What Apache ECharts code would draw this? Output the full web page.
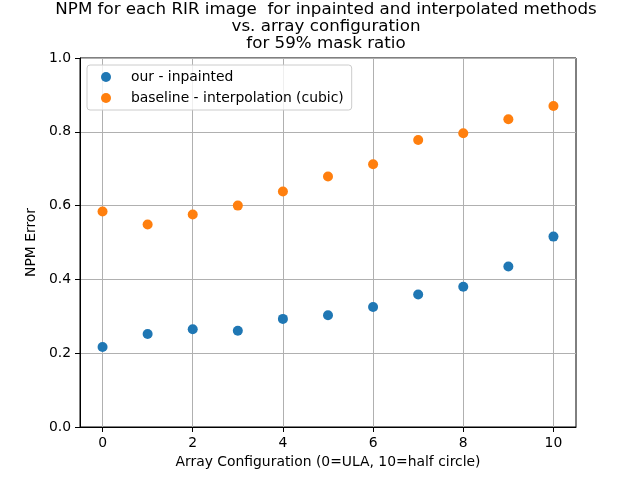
<!DOCTYPE html>
<html>
<head>
<meta charset="utf-8">
<script src="https://cdn.jsdelivr.net/npm/echarts@6/dist/echarts.min.js"></script>
<style>html,body{margin:0;padding:0;background:#fff}#c{width:640px;height:480px}</style>
</head>
<body>
<div id="c"></div>
<script>
const configs = [0, 1, 2, 3, 4, 5, 6, 7, 8, 9, 10];
const inpainted = [0.217, 0.252, 0.265, 0.261, 0.293, 0.303, 0.325, 0.359, 0.380, 0.435, 0.516];
const interpolated = [0.584, 0.549, 0.576, 0.600, 0.638, 0.679, 0.712, 0.778, 0.796, 0.834, 0.870];
const xTicks = [0, 2, 4, 6, 8, 10];
const seriesNames = ['our - inpainted', 'baseline - interpolation (cubic)'];
const titleLines = ['NPM for each RIR image  for inpainted and interpolated methods', 'vs. array configuration', 'for 59% mask ratio'];

const font = 'DejaVu Sans';
const chart = echarts.init(document.getElementById('c'), null, {renderer: 'canvas'});
chart.setOption({
  animation: false,
  backgroundColor: '#fff',
  title: {
    text: titleLines.join('\n'),
    left: 326, top: 1, textAlign: 'center', padding: [0, 0, 0, 0],
    textStyle: {fontFamily: font, fontSize: 16.7, fontWeight: 'normal', color: '#000', lineHeight: 17}
  },
  grid: {left: 80, right: 64, top: 58, bottom: 53, show: true, borderColor: '#000', borderWidth: 1, backgroundColor: 'transparent'},
  legend: {
    orient: 'vertical', left: 87, top: 65,
    padding: [5, 8, 5, 14],
    itemGap: 7, itemWidth: 10, itemHeight: 10,
    backgroundColor: 'rgba(255,255,255,0.8)', borderColor: '#cccccc', borderWidth: 1, borderRadius: 3,
    textStyle: {fontFamily: font, fontSize: 13.9, color: '#000', padding: [0, 0, 0, 15]},
    data: [{name: seriesNames[0], icon: 'circle'}, {name: seriesNames[1], icon: 'circle'}]
  },
  xAxis: {
    type: 'value', min: -0.5, max: 10.5,
    name: 'Array Configuration (0=ULA, 10=half circle)', nameLocation: 'middle', nameGap: 28,
    nameTextStyle: {fontFamily: font, fontSize: 13.9, color: '#000'},
    axisLine: {show: true, onZero: false, lineStyle: {color: '#000', width: 1}},
    axisTick: {show: true, length: 5, lineStyle: {color: '#000'}, customValues: xTicks},
    axisLabel: {fontFamily: font, fontSize: 13.9, color: '#000', margin: 9, customValues: xTicks},
    splitLine: {show: true, lineStyle: {color: '#b0b0b0', width: 1}}
  },
  yAxis: {
    type: 'value', min: 0, max: 1, interval: 0.2,
    name: 'NPM Error', nameLocation: 'middle', nameGap: 37,
    nameTextStyle: {fontFamily: font, fontSize: 13.9, color: '#000'},
    axisLine: {show: true, onZero: false, lineStyle: {color: '#000', width: 1}},
    axisTick: {show: true, length: 5, lineStyle: {color: '#000'}},
    axisLabel: {fontFamily: font, fontSize: 13.9, color: '#000', margin: 9, formatter: v => v.toFixed(1)},
    splitLine: {show: true, lineStyle: {color: '#b0b0b0', width: 1}}
  },
  series: [
    {name: seriesNames[0], type: 'scatter', symbolSize: 10, itemStyle: {color: '#1f77b4', opacity: 1},
     data: configs.map((c, i) => [c, inpainted[i]])},
    {name: seriesNames[1], type: 'scatter', symbolSize: 10, itemStyle: {color: '#ff7f0e', opacity: 1},
     data: configs.map((c, i) => [c, interpolated[i]])}
  ]
});
</script>
</body>
</html>
